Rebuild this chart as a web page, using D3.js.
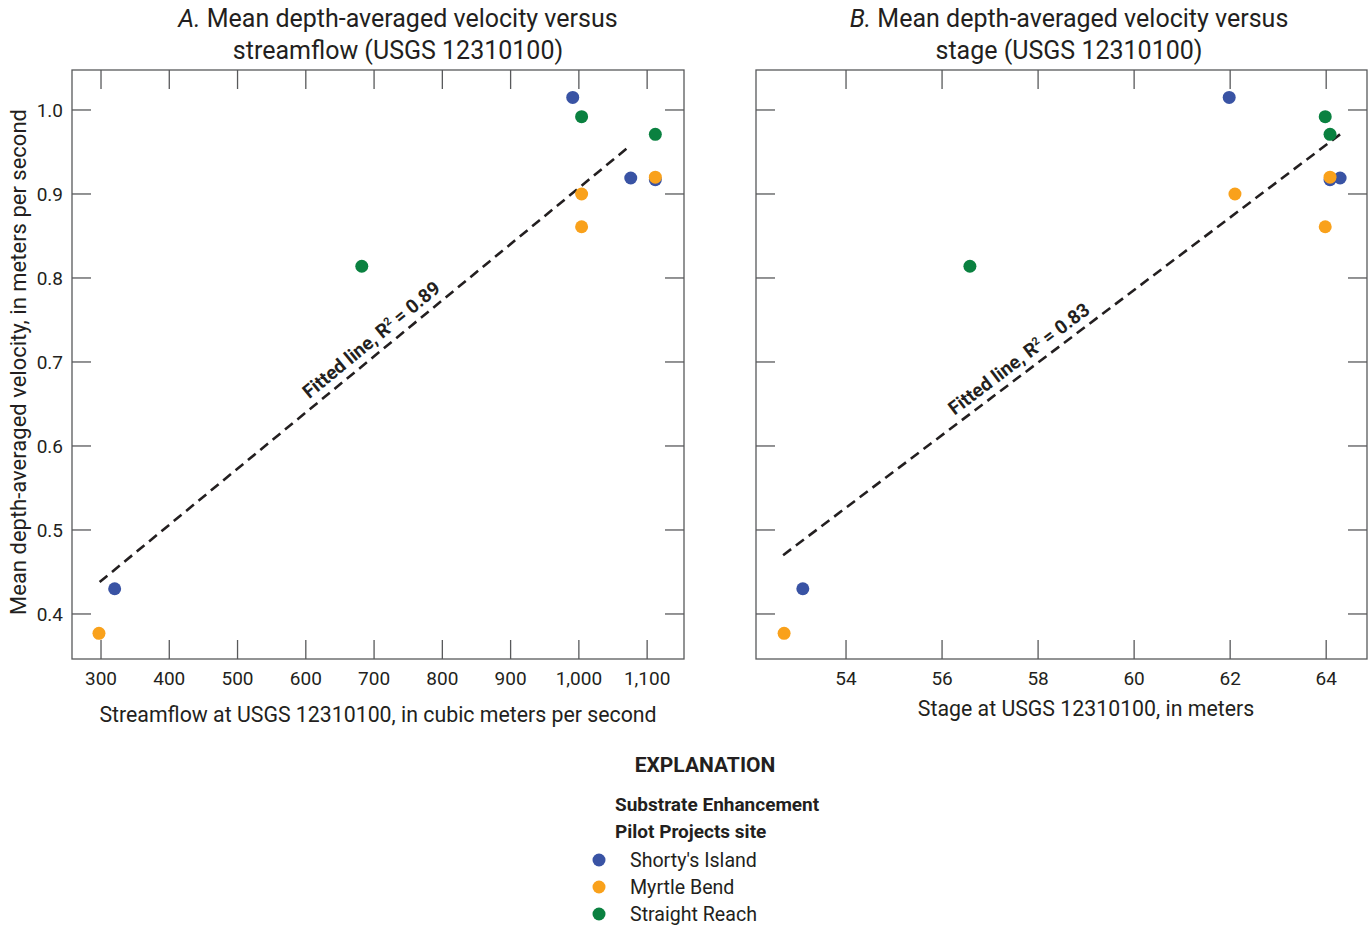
<!DOCTYPE html>
<html>
<head>
<meta charset="utf-8">
<script src="https://cdn.jsdelivr.net/npm/d3@7"></script>
<style>
  body { margin: 0; background: #fff; }
  svg text { font-family: Roboto, sans-serif; fill: #231f20; }
</style>
</head>
<body>
<svg id="chart" width="1370" height="926"></svg>
<script>
// ---- data ----
const sites = ["Shorty's Island", "Myrtle Bend", "Straight Reach"];
const pointSite   = [0, 1, 2, 0, 2, 1, 1, 0, 2, 0, 1];
const flowValues  = [320, 297, 682, 991, 1004, 1004, 1004, 1076, 1112, 1112, 1112];
const stageValues = [53.1, 52.71, 56.58, 61.98, 63.98, 62.1, 63.98, 64.29, 64.08, 64.08, 64.08];
const velocityValues = [0.43, 0.377, 0.814, 1.015, 0.992, 0.9, 0.861, 0.919, 0.971, 0.917, 0.92];

const fitFlowX = [298, 1073],   fitFlowY = [0.438, 0.956];
const fitStageX = [52.69, 64.29], fitStageY = [0.470, 0.971];

const flowTicks  = [300, 400, 500, 600, 700, 800, 900, 1000, 1100];
const stageTicks = [54, 56, 58, 60, 62, 64];
const velTicks   = [0.4, 0.5, 0.6, 0.7, 0.8, 0.9, 1.0];

const siteColor = ["#3953a4", "#f9a11b", "#0a8140"];

const svg = d3.select("#chart");
const plotTop = 70, plotBottom = 659;
const y = d3.scaleLinear().domain([0.3464, 1.0476]).range([plotBottom, plotTop]);

function panel(opts) {
  const x = d3.scaleLinear().domain(opts.domain).range([opts.left, opts.right]);
  const g = svg.append("g");
  const tickLen = 19, stroke = "#58595b";

  // frame
  g.append("rect").attr("x", opts.left).attr("y", plotTop)
    .attr("width", opts.right - opts.left).attr("height", plotBottom - plotTop)
    .attr("fill", "none").attr("stroke", stroke).attr("stroke-width", 1.3);

  // inward ticks on all four sides
  g.selectAll(".xt").data(opts.ticks).join("line").attr("class", "xt")
    .attr("x1", d => x(d)).attr("x2", d => x(d)).attr("y1", plotBottom).attr("y2", plotBottom - tickLen)
    .attr("stroke", stroke).attr("stroke-width", 1.3);
  g.selectAll(".xtt").data(opts.ticks).join("line").attr("class", "xtt")
    .attr("x1", d => x(d)).attr("x2", d => x(d)).attr("y1", plotTop).attr("y2", plotTop + tickLen)
    .attr("stroke", stroke).attr("stroke-width", 1.3);
  g.selectAll(".yt").data(velTicks).join("line").attr("class", "yt")
    .attr("x1", opts.left).attr("x2", opts.left + tickLen).attr("y1", d => y(d)).attr("y2", d => y(d))
    .attr("stroke", stroke).attr("stroke-width", 1.3);
  g.selectAll(".ytr").data(velTicks).join("line").attr("class", "ytr")
    .attr("x1", opts.right).attr("x2", opts.right - tickLen).attr("y1", d => y(d)).attr("y2", d => y(d))
    .attr("stroke", stroke).attr("stroke-width", 1.3);

  // tick labels
  g.selectAll(".xl").data(opts.ticks).join("text").attr("class", "xl")
    .attr("x", d => x(d)).attr("y", 685).attr("text-anchor", "middle")
    .attr("font-size", 19).text(opts.fmt);
  if (opts.yLabels) {
    g.selectAll(".yl").data(velTicks).join("text").attr("class", "yl")
      .attr("x", opts.left - 9).attr("y", d => y(d) + 7).attr("text-anchor", "end")
      .attr("font-size", 19).text(d3.format(".1f"));
  }

  // titles
  const title = g.append("text").attr("x", opts.titleX).attr("y", 27)
    .attr("text-anchor", "middle").attr("font-size", 25);
  title.append("tspan").attr("font-style", "italic").text(opts.letter + ". ");
  title.append("tspan").text(opts.title1);
  g.append("text").attr("x", opts.titleX).attr("y", 59).attr("text-anchor", "middle")
    .attr("font-size", 25).text(opts.title2);

  g.append("text").attr("x", opts.xLabelX).attr("y", opts.xLabelY).attr("text-anchor", "middle")
    .attr("font-size", 21.3).text(opts.xLabel);

  // fitted line
  const p0 = [x(opts.fitX[0]), y(opts.fitY[0])], p1 = [x(opts.fitX[1]), y(opts.fitY[1])];
  g.append("line").attr("x1", p0[0]).attr("y1", p0[1]).attr("x2", p1[0]).attr("y2", p1[1])
    .attr("stroke", "#231f20").attr("stroke-width", 2.6).attr("stroke-dasharray", "10,6");

  const ang = Math.atan2(p1[1] - p0[1], p1[0] - p0[0]) * 180 / Math.PI;
  const cx = p0[0] + (p1[0] - p0[0]) * opts.labelFrac, cy = p0[1] + (p1[1] - p0[1]) * opts.labelFrac;
  const lab = g.append("text").attr("transform", `translate(${cx},${cy}) rotate(${ang})`)
    .attr("y", -8).attr("text-anchor", "middle").attr("font-size", 19).attr("font-weight", "bold");
  lab.append("tspan").text("Fitted line, R");
  lab.append("tspan").attr("font-size", 11).attr("dy", -7).text("2");
  lab.append("tspan").attr("dy", 7).text(" = " + opts.r2);

  // points
  g.selectAll("circle").data(opts.xs).join("circle")
    .attr("cx", d => x(d)).attr("cy", (d, i) => y(velocityValues[i])).attr("r", 6.5)
    .attr("fill", (d, i) => siteColor[pointSite[i]]);
}

panel({
  left: 72, right: 684, domain: [257.5, 1154], ticks: flowTicks, fmt: d3.format(","),
  yLabels: true, xs: flowValues, fitX: fitFlowX, fitY: fitFlowY, labelFrac: 0.531, r2: "0.89",
  letter: "A", title1: "Mean depth-averaged velocity versus", title2: "streamflow (USGS 12310100)", titleX: 398,
  xLabel: "Streamflow at USGS 12310100, in cubic meters per second", xLabelX: 378, xLabelY: 722
});
panel({
  left: 756, right: 1367, domain: [52.125, 64.85], ticks: stageTicks, fmt: d3.format("d"),
  yLabels: false, xs: stageValues, fitX: fitStageX, fitY: fitStageY, labelFrac: 0.439, r2: "0.83",
  letter: "B", title1: "Mean depth-averaged velocity versus", title2: "stage (USGS 12310100)", titleX: 1069,
  xLabel: "Stage at USGS 12310100, in meters", xLabelX: 1086, xLabelY: 716
});

// y axis label
svg.append("text").attr("transform", "translate(26,362) rotate(-90)").attr("text-anchor", "middle")
  .attr("font-size", 22).text("Mean depth-averaged velocity, in meters per second");

// explanation
svg.append("text").attr("x", 705).attr("y", 772).attr("text-anchor", "middle")
  .attr("font-size", 21).attr("font-weight", "bold").text("EXPLANATION");
svg.append("text").attr("x", 615).attr("y", 811).attr("font-size", 19).attr("font-weight", "bold")
  .text("Substrate Enhancement");
svg.append("text").attr("x", 615).attr("y", 838).attr("font-size", 19).attr("font-weight", "bold")
  .text("Pilot Projects site");
const leg = svg.selectAll(".leg").data(sites).join("g").attr("class", "leg")
  .attr("transform", (d, i) => `translate(599,${860 + i * 27})`);
leg.append("circle").attr("r", 6.5).attr("fill", (d, i) => siteColor[i]);
leg.append("text").attr("x", 31).attr("y", 7).attr("font-size", 19.6).text(d => d);
</script>
</body>
</html>
